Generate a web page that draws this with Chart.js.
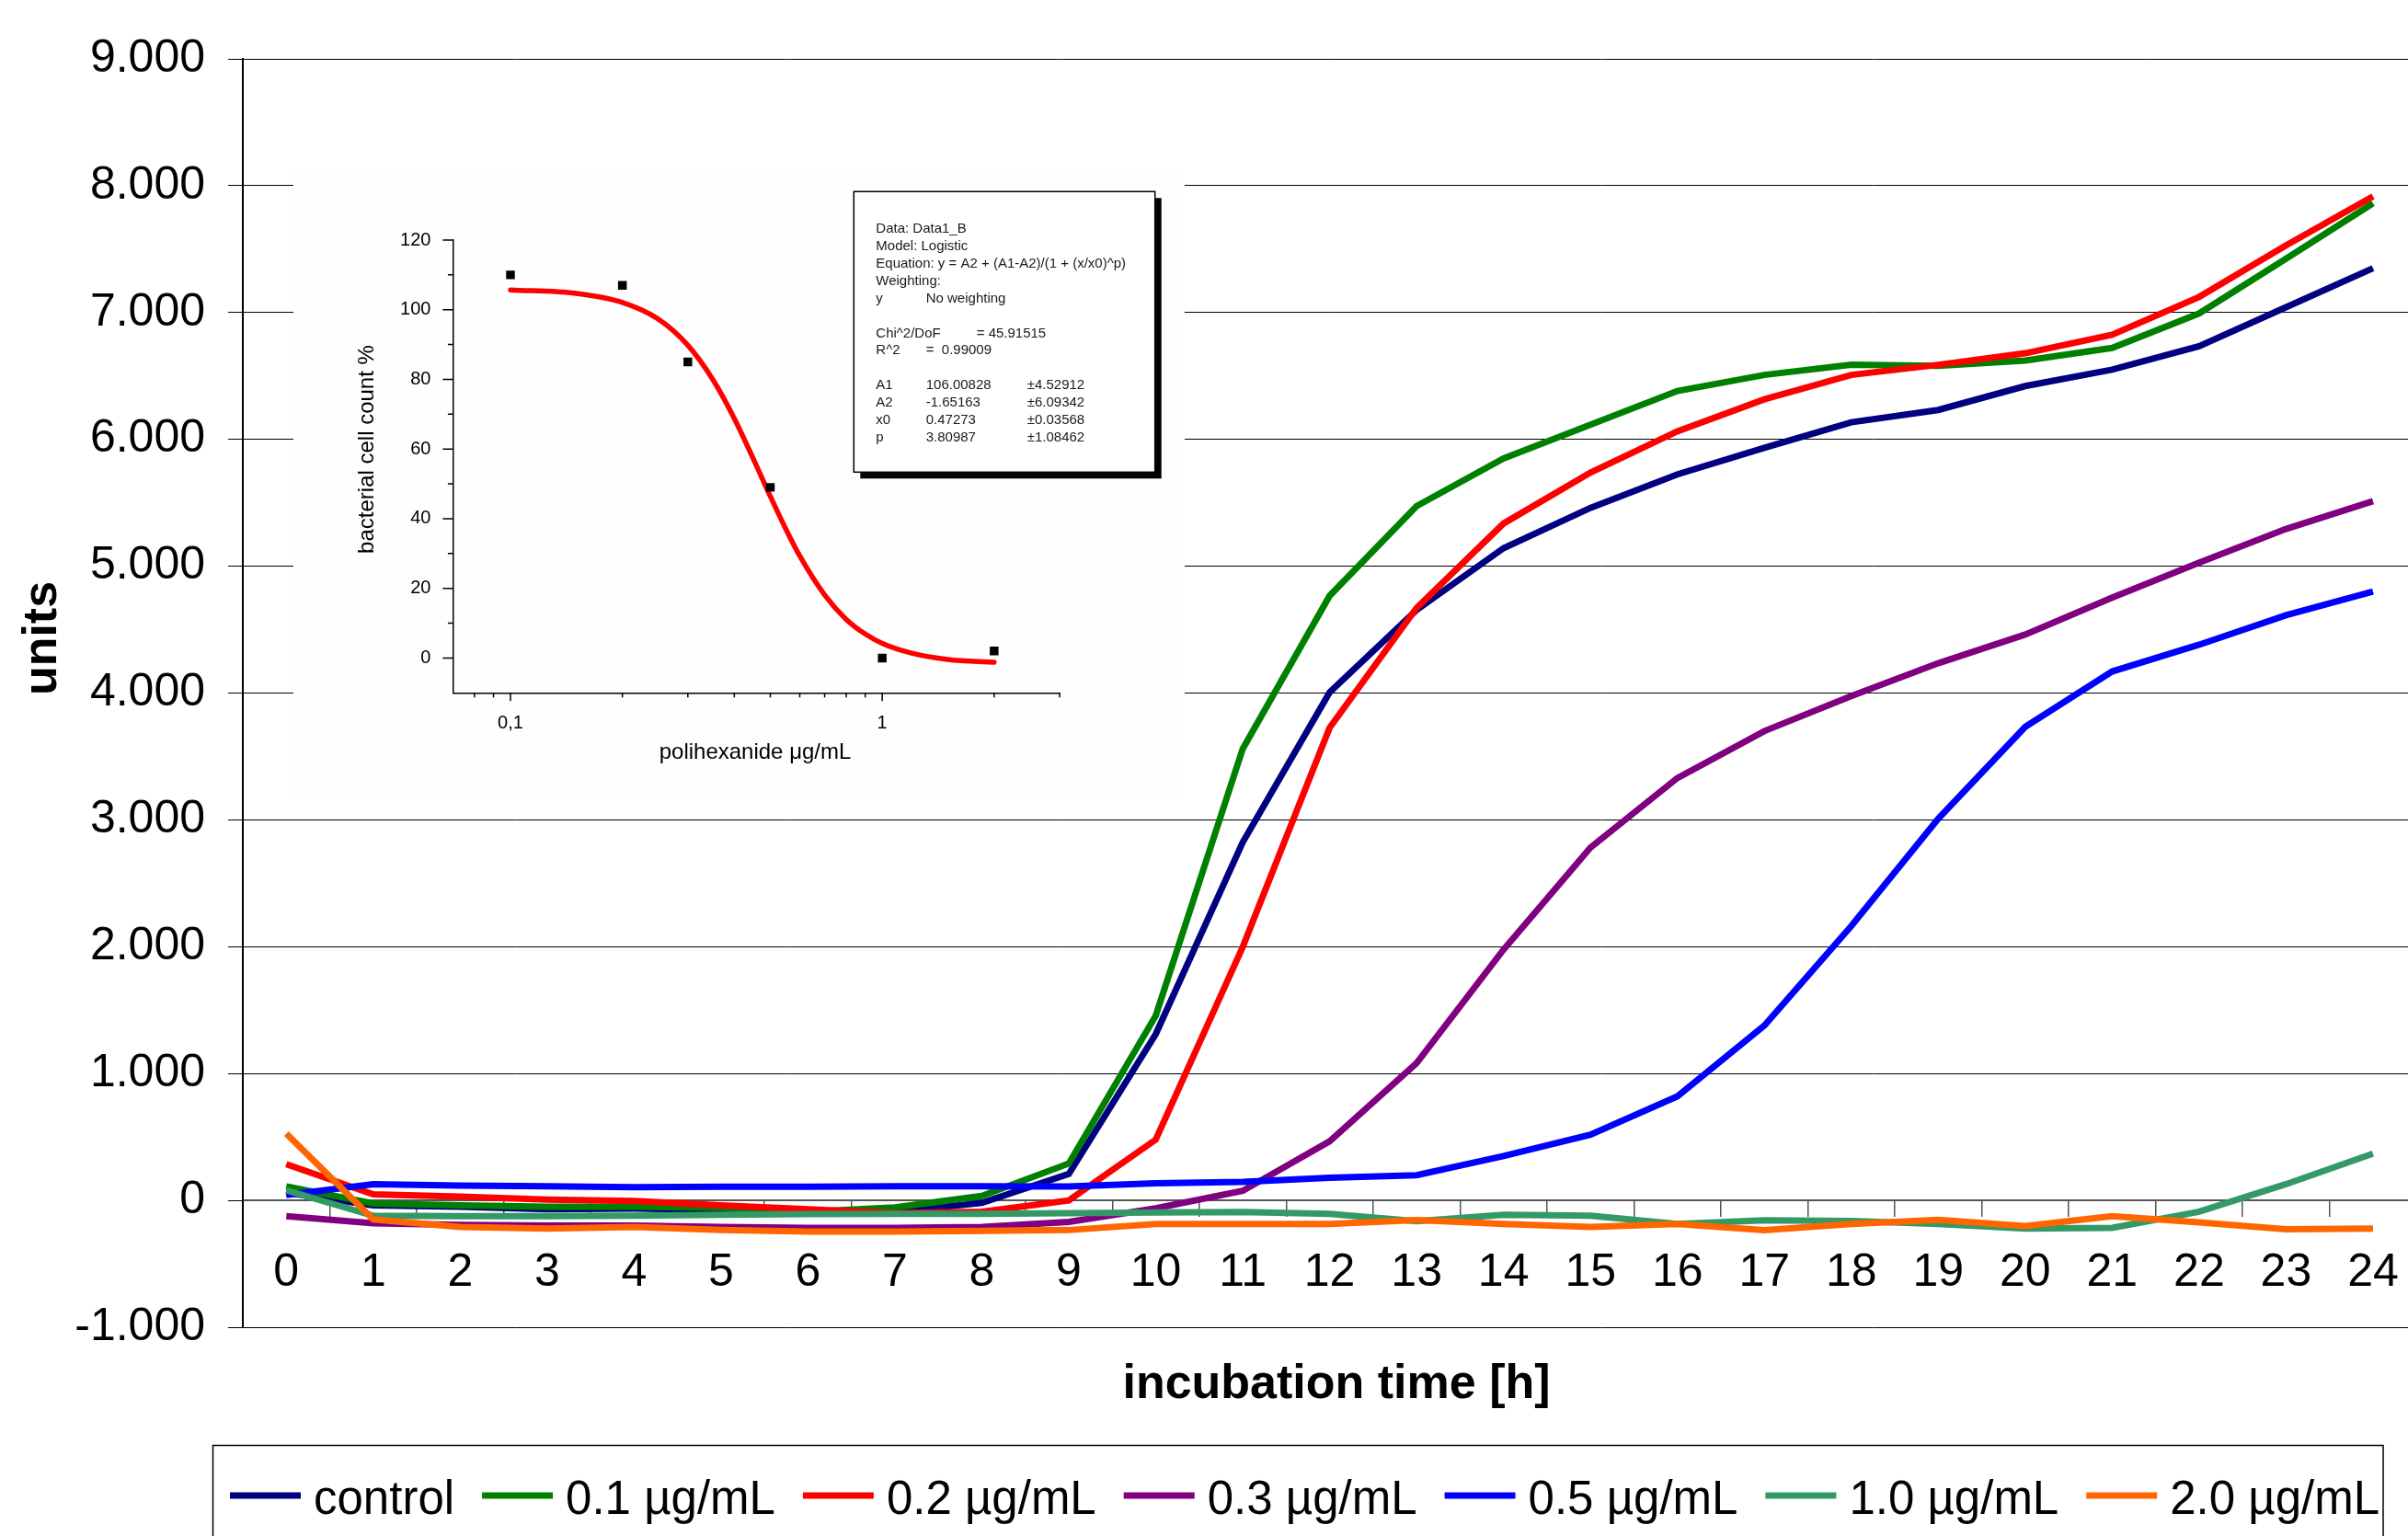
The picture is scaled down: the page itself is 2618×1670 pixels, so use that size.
<!DOCTYPE html>
<html><head><meta charset="utf-8">
<script src="https://cdn.jsdelivr.net/npm/chart.js@4.4.1/dist/chart.umd.min.js"></script>
<style>
html,body{margin:0;padding:0;background:#fff;overflow:hidden;width:2618px;height:1670px}
#wrap{position:relative;width:2640px;height:1670px}
#main{position:absolute;left:0;top:0}
#inset{position:absolute;left:319px;top:182px}
</style></head><body>
<div id="wrap"><canvas id="main" width="2640" height="1670"></canvas><canvas id="inset" width="969" height="684"></canvas></div>
<script>
// ---------- main chart data ----------
const hours = ['0','1','2','3','4','5','6','7','8','9','10','11','12','13','14','15','16','17','18','19','20','21','22','23','24'];
const seriesNames = ['control','0.1 µg/mL','0.2 µg/mL','0.3 µg/mL','0.5 µg/mL','1.0 µg/mL','2.0 µg/mL'];
const control = [60,-40,-50,-70,-65,-75,-85,-90,-20,208,1311,2823,4005,4655,5142,5460,5724,5934,6135,6232,6420,6550,6734,7042,7349];
const conc01  = [110,-25,-40,-50,-50,-60,-90,-55,35,291,1457,3560,4767,5474,5850,6116,6382,6508,6588,6579,6621,6721,6993,7424,7861];
const conc02  = [285,48,30,7,-5,-40,-70,-100,-90,0,479,1998,3726,4671,5337,5738,6064,6316,6508,6588,6679,6825,7123,7530,7916];
const conc03  = [-125,-180,-193,-198,-198,-210,-217,-217,-210,-170,-63,75,466,1082,1977,2781,3330,3700,3976,4235,4461,4753,5028,5294,5513];
const conc05  = [43,128,116,111,104,108,108,111,111,110,135,146,178,199,350,518,820,1378,2164,3010,3733,4170,4381,4613,4801];
const conc10  = [80,-121,-125,-125,-121,-113,-108,-106,-106,-101,-95,-92,-106,-165,-113,-120,-186,-157,-162,-186,-222,-217,-89,128,369];
const conc20  = [526,-150,-210,-222,-210,-234,-246,-246,-241,-234,-186,-186,-186,-156,-186,-210,-186,-234,-186,-154,-203,-125,-174,-227,-222];
const seriesColors = ['#000080','#008000','#FF0000','#800080','#0000FF','#339966','#FF6600'];
const xTitle = 'incubation time [h]';
const yTitle = 'units';

// ---------- inset data ----------
const concPoints = [0.1, 0.2, 0.3, 0.5, 1, 2];
const countPct   = [110, 107, 85, 49, 0, 2];
const fitConc = [0.1,0.15,0.2,0.25,0.3,0.35,0.4,0.45,0.5,0.55,0.6,0.7,0.8,0.9,1.0,1.2,1.5,2.0];
const fitPct  = [105.7,104.7,102.1,97.3,89.8,80.0,68.8,57.2,46.4,37.1,29.3,18.1,11.1,6.9,4.2,1.4,-0.4,-1.2];
const insetYMajor = [0,20,40,60,80,100,120];
const insetYMinor = [10,30,50,70,90,110];
const insetXMajor = [0.1, 1];
const insetXMinor = [0.08,0.09,0.2,0.3,0.4,0.5,0.6,0.7,0.8,0.9,2,3];
const insetXTitle = 'polihexanide μg/mL';
const insetYTitle = 'bacterial cell count %';
const fitText = [
  ['Data: Data1_B'],
  ['Model: Logistic'],
  ['Equation: y = A2 + (A1-A2)/(1 + (x/x0)^p)'],
  ['Weighting:'],
  ['y', 'No weighting'],
  [],
  ['Chi^2/DoF', '', '= 45.91515'],
  ['R^2', '=  0.99009'],
  [],
  ['A1', '106.00828', '', '±4.52912'],
  ['A2', '-1.65163', '', '±6.09342'],
  ['x0', '0.47273', '', '±0.03568'],
  ['p', '3.80987', '', '±1.08462']
];

const FONT = '"Liberation Sans", Arial, sans-serif';
const fmt = v => (v < 0 ? '-' : '') + Math.abs(v).toString().replace(/\B(?=(\d{3})+(?!\d))/g, '.');

const allSeries = [control, conc01, conc02, conc03, conc05, conc10, conc20];

const mainDecor = {
  id: 'mainDecor',
  afterDraw(chart) {
    const ctx = chart.ctx;
    ctx.save();
    ctx.fillStyle = '#000';
    ctx.font = 'bold 52px ' + FONT;
    ctx.textAlign = 'center';
    ctx.textBaseline = 'middle';
    ctx.fillText(xTitle, 1453, 1506);
    ctx.save();
    ctx.translate(47, 694);
    ctx.rotate(-Math.PI / 2);
    ctx.fillText(yTitle, 0, 0);
    ctx.restore();
    // legend
    ctx.strokeStyle = '#000';
    ctx.lineWidth = 1.5;
    ctx.strokeRect(231.5, 1571.5, 2591 - 231.5, 200);
    ctx.font = '51px ' + FONT;
    ctx.textAlign = 'left';
    ctx.textBaseline = 'alphabetic';
    let x = 250;
    chart.data.datasets.forEach(ds => {
      ctx.strokeStyle = ds.borderColor;
      ctx.lineWidth = 7;
      ctx.lineCap = 'butt';
      ctx.beginPath(); ctx.moveTo(x, 1626); ctx.lineTo(x + 77, 1626); ctx.stroke();
      ctx.fillStyle = '#000';
      ctx.fillText(ds.label, x + 91, 1646);
      x += 91 + ctx.measureText(ds.label).width + 30;
    });
    ctx.restore();
  }
};

new Chart(document.getElementById('main'), {
  type: 'line',
  data: {
    labels: hours,
    datasets: allSeries.map((s, i) => ({
      label: seriesNames[i], data: s, borderColor: seriesColors[i], backgroundColor: seriesColors[i],
      borderWidth: 7, pointRadius: 0, fill: false, tension: 0, order: 6 - i, borderJoinStyle: 'miter'
    }))
  },
  options: {
    responsive: false, animation: false,
    layout: { padding: { left: 0, top: 64, right: 12, bottom: 1670 - 1443 } },
    plugins: { legend: { display: false }, tooltip: { enabled: false } },
    scales: {
      x: {
        type: 'category', position: { y: 0 }, offset: true,
        grid: { display: true, drawOnChartArea: false, drawTicks: true, tickLength: 17, offset: true, color: '#555', lineWidth: 1.5 },
        border: { display: true, color: '#555', width: 2 },
        ticks: { font: { family: FONT, size: 50 }, color: '#000', padding: 32, autoSkip: false, maxRotation: 0 }
      },
      y: {
        min: -1000, max: 9000,
        ticks: { stepSize: 1000, font: { family: FONT, size: 50 }, color: '#000', padding: 25, callback: v => fmt(v) },
        grid: { color: '#000', lineWidth: 1, tickLength: 16, drawTicks: true },
        border: { color: '#000', width: 2 },
        afterFit: s => { s.width = 264; }
      }
    }
  },
  plugins: [mainDecor]
});

// ---------- inset ----------
const insetDecor = {
  id: 'insetDecor',
  beforeDraw(chart) {
    const ctx = chart.ctx;
    ctx.save();
    ctx.fillStyle = '#fefefe';
    ctx.fillRect(0, 0, chart.width, chart.height);
    ctx.restore();
  },
  afterDraw(chart) {
    const ctx = chart.ctx;
    const xs = chart.scales.x, ys = chart.scales.y;
    const ca = chart.chartArea;
    ctx.save();
    ctx.strokeStyle = '#000';
    ctx.lineWidth = 1.5;
    ctx.beginPath();
    insetYMajor.forEach(v => { const p = ys.getPixelForValue(v); ctx.moveTo(ca.left, p); ctx.lineTo(ca.left - 11, p); });
    insetYMinor.forEach(v => { const p = ys.getPixelForValue(v); ctx.moveTo(ca.left, p); ctx.lineTo(ca.left - 5.5, p); });
    insetXMajor.forEach(v => { const p = xs.getPixelForValue(v); ctx.moveTo(p, ca.bottom); ctx.lineTo(p, ca.bottom + 9); });
    insetXMinor.forEach(v => { const p = xs.getPixelForValue(v); ctx.moveTo(p, ca.bottom); ctx.lineTo(p, ca.bottom + 5); });
    ctx.stroke();
    // titles
    ctx.fillStyle = '#000';
    ctx.font = '24px ' + FONT;
    ctx.textAlign = 'center';
    ctx.textBaseline = 'middle';
    ctx.fillText(insetXTitle, 502, 636);
    ctx.save();
    ctx.translate(80, 306.5);
    ctx.rotate(-Math.PI / 2);
    ctx.fillText(insetYTitle, 0, 0);
    ctx.restore();
    // fit result box
    const bx = 609.3, by = 26.3, bw = 327.4, bh = 305;
    ctx.fillStyle = '#000';
    ctx.fillRect(bx + 7, by + 7, bw, bh);
    ctx.fillStyle = '#fff';
    ctx.fillRect(bx, by, bw, bh);
    ctx.lineWidth = 1.5;
    ctx.strokeRect(bx, by, bw, bh);
    ctx.fillStyle = '#1a1a1a';
    ctx.font = '15px ' + FONT;
    ctx.textAlign = 'left';
    const cols = [633.3, 687.7, 742.7, 797.7];
    fitText.forEach((row, i) => {
      const y = 67 + i * 18.9;
      row.forEach((t, j) => { if (t) ctx.fillText(t, cols[j], y); });
    });
    ctx.restore();
  }
};

new Chart(document.getElementById('inset'), {
  type: 'scatter',
  data: {
    datasets: [
      { type: 'line', label: 'fit', data: fitConc.map((x, i) => ({ x, y: fitPct[i] })), borderColor: '#FF0000',
        borderWidth: 5.5, pointRadius: 0, cubicInterpolationMode: 'monotone', fill: false, order: 2, borderCapStyle: 'round' },
      { label: 'Data1_B', data: concPoints.map((x, i) => ({ x, y: countPct[i] })), pointStyle: 'rect', pointRadius: 6.7,
        backgroundColor: '#000', borderWidth: 0, order: 1 }
    ]
  },
  options: {
    responsive: false, animation: false,
    layout: { padding: { left: 0, top: 79, right: 136, bottom: 0 } },
    plugins: { legend: { display: false }, tooltip: { enabled: false } },
    scales: {
      x: {
        type: 'logarithmic', min: 0.07, max: 3,
        grid: { display: false }, border: { display: true, color: '#000', width: 1.5 },
        ticks: { autoSkip: false, maxRotation: 0, font: { family: FONT, size: 20 }, color: '#000', padding: 13,
          callback: v => Math.abs(v - 0.1) < 1e-9 ? '0,1' : (Math.abs(v - 1) < 1e-9 ? '1' : '') },
        afterFit: s => { s.height = 684 - 571.3; }
      },
      y: {
        min: -10, max: 120,
        grid: { display: false }, border: { display: true, color: '#000', width: 1.5 },
        ticks: { stepSize: 20, font: { family: FONT, size: 20 }, color: '#000', padding: 16,
          callback: v => (v < 0 ? '' : String(v)) },
        afterFit: s => { s.width = 173.4; }
      }
    }
  },
  plugins: [insetDecor]
});
</script>
</body></html>
